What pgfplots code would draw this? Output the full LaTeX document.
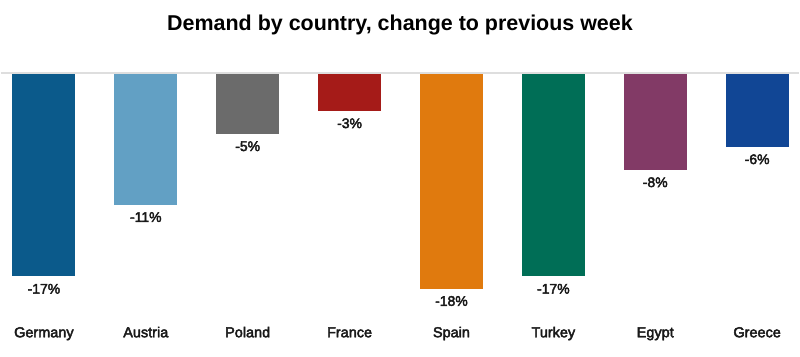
\documentclass[border=0pt]{standalone}
\usepackage{pgfplots}
\pgfplotsset{compat=1.18}
\usepackage{fontspec}
\setmainfont{Liberation Sans}
\newfontfamily\medfont{Liberation Sans}[FakeBold=3]
\definecolor{cGer}{HTML}{0B5A8B}
\definecolor{cAut}{HTML}{62A0C4}
\definecolor{cPol}{HTML}{6B6B6B}
\definecolor{cFra}{HTML}{A51B18}
\definecolor{cSpa}{HTML}{E07A0E}
\definecolor{cTur}{HTML}{006E56}
\definecolor{cEgy}{HTML}{823A66}
\definecolor{cGre}{HTML}{114695}
\begin{document}
\begin{tikzpicture}
\begin{axis}[
  scale only axis,
  width=800bp, height=357bp,
  xmin=-0.421, xmax=7.411,
  ymin=-23.70, ymax=6.20,
  axis line style={draw=none},
  major tick length=0pt,
  ytick=\empty,
  xtick={0,1,2,3,4,5,6,7},
  xticklabels={Germany,Austria,Poland,France,Spain,Turkey,Egypt,Greece},
  xticklabel style={anchor=base, yshift=19bp, font=\fontsize{14.5bp}{16bp}\medfont, text=black!90},
  title={\bfseries Demand by country, change to previous week},
  title style={at={(0.5,1)}, anchor=base, yshift=-36.5bp, font=\fontsize{21.5bp}{24bp}\selectfont},
  ybar, bar width=0.617,
  nodes near coords={\pgfmathprintnumber[fixed,precision=0,assume math mode=true]{\pgfplotspointmeta}\%},
  every node near coord/.append style={anchor=north, yshift=-4bp, font=\fontsize{14bp}{16bp}\medfont, text=black!90},
  clip=false,
]
\draw[draw=black!13, line width=2bp] (axis cs:-0.421,0.08) -- (axis cs:7.411,0.08);
\addplot[fill=cGer, draw=none, bar shift=0pt] coordinates {(0,-17.0)};
\addplot[fill=cAut, draw=none, bar shift=0pt] coordinates {(1,-10.98)};
\addplot[fill=cPol, draw=none, bar shift=0pt] coordinates {(2,-5.03)};
\addplot[fill=cFra, draw=none, bar shift=0pt] coordinates {(3,-3.1)};
\addplot[fill=cSpa, draw=none, bar shift=0pt] coordinates {(4,-18.02)};
\addplot[fill=cTur, draw=none, bar shift=0pt] coordinates {(5,-17.0)};
\addplot[fill=cEgy, draw=none, bar shift=0pt] coordinates {(6,-8.05)};
\addplot[fill=cGre, draw=none, bar shift=0pt] coordinates {(7,-6.12)};
\end{axis}
\end{tikzpicture}
\end{document}
